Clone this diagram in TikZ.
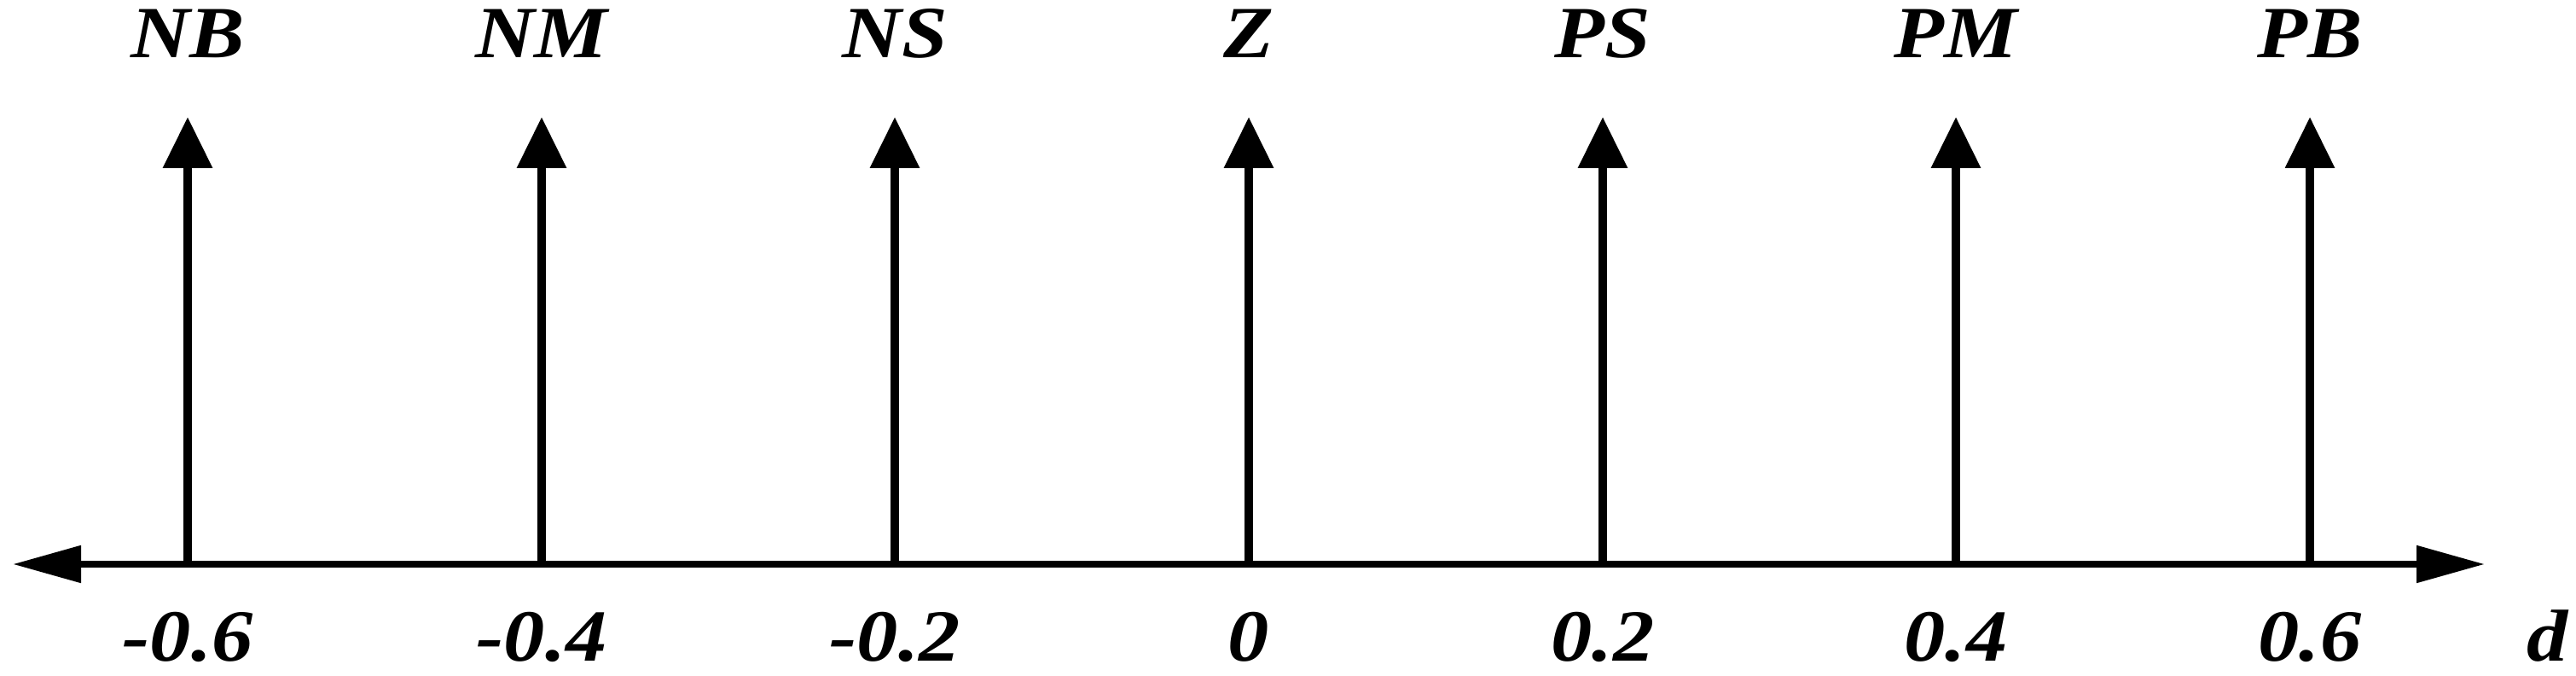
\documentclass[tikz,border=0pt]{standalone}
\usepackage{fontspec}
\setmainfont{Liberation Serif}
\usetikzlibrary{arrows.meta}
\newcommand{\widetext}[1]{\scalebox{1.12}[1]{#1}}
\begin{document}
\begin{tikzpicture}[x=1cm,y=1cm,
  axisline/.style={line width=2.4pt,{Triangle[length=0.8cm,width=0.42cm]}-{Triangle[length=0.8cm,width=0.42cm]}},
  stem/.style={line width=2.8pt,-{Triangle[length=0.6cm,width=0.56cm]}},
  lbl/.style={font=\fontsize{24.5}{28}\selectfont\bfseries\itshape,inner sep=0pt,anchor=base}]
\useasboundingbox (0,0) rectangle (30.20,7.91);
\coordinate (L) at (0.15,1.30);
\coordinate (R) at (29.13,1.30);
\draw[axisline] (L) -- (R);
\foreach \i/\x/\top/\bot in {1/2.20/NB/-0.6, 2/6.35/NM/-0.4, 3/10.49/NS/-0.2, 4/14.64/Z/0, 5/18.79/PS/0.2, 6/22.93/PM/0.4, 7/27.08/PB/0.6}{
  \coordinate (b\i) at (\x,1.30);
  \coordinate (t\i) at (\x,6.54);
  \draw[stem] (b\i) -- (t\i);
  \node[lbl] (top\i) at (\x,7.23) {\widetext{\top}};
  \node[lbl] (bot\i) at (\x,0.16) {\widetext{\bot}};
}
\node[lbl] (d) at (29.87,0.16) {\widetext{d}};
\end{tikzpicture}
\end{document}
